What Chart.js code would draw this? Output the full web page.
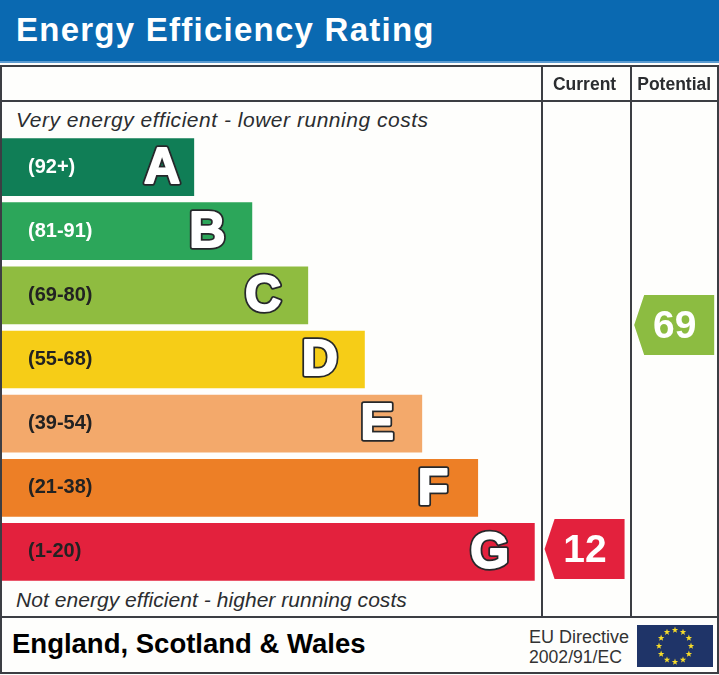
<!DOCTYPE html>
<html>
<head>
<meta charset="utf-8">
<script src="https://cdn.jsdelivr.net/npm/chart.js@4"></script>
<style>
html,body{margin:0;padding:0;background:#fff}
#page{position:relative;width:719px;height:675px;overflow:hidden;background:#fefefc;font-family:"Liberation Sans",Arial,sans-serif}
#page div{position:absolute;white-space:nowrap}
canvas{position:absolute;left:0;top:0}
.line{background:#3c3e43}
#head{left:0;top:0;width:719px;height:61px;background:#0a69b1;border-bottom:2px solid #5b9bd0}
#title{left:16px;top:8px;color:#fff;font-weight:bold;font-size:33px;line-height:44px;letter-spacing:1.25px}
.note{left:16px;font-style:italic;font-size:21px;line-height:26px;color:#2b2d30}
#region{left:12px;top:628px;font-weight:bold;font-size:27.5px;line-height:32px;color:#000}
.eu{left:529px;font-size:18px;line-height:20px;color:#333}
#flag{position:absolute;left:637px;top:625px}
</style>
</head>
<body>
<div id="page">
  <div id="head"></div>
  <div id="title">Energy Efficiency Rating</div>
  <div class="line" style="left:0;top:65px;width:719px;height:2px"></div>
  <div class="line" style="left:0;top:100px;width:719px;height:2px"></div>
  <div class="line" style="left:0;top:616px;width:719px;height:2px"></div>
  <div class="line" style="left:0;top:672px;width:719px;height:2px"></div>
  <div class="line" style="left:0;top:65px;width:2px;height:609px"></div>
  <div class="line" style="left:717px;top:65px;width:2px;height:609px"></div>
  <div class="line" style="left:541px;top:65px;width:2px;height:552px"></div>
  <div class="line" style="left:630px;top:65px;width:2px;height:552px"></div>
  <div class="note" style="top:107px;letter-spacing:.52px">Very energy efficient - lower running costs</div>
  <div class="note" style="top:587px;letter-spacing:.05px">Not energy efficient - higher running costs</div>
  <div id="region">England, Scotland &amp; Wales</div>
  <div class="eu" style="top:627px">EU Directive</div>
  <div class="eu" style="top:647px;font-size:17.6px">2002/91/EC</div>
  <svg id="flag" width="76" height="42" viewBox="0 0 76 42"></svg>
  <canvas id="chart" width="719" height="675"></canvas>
</div>
<script>
const grades = ["A", "B", "C", "D", "E", "F", "G"];
const ranges = ["(92+)", "(81-91)", "(69-80)", "(55-68)", "(39-54)", "(21-38)", "(1-20)"];
const bandLengths = [26.8, 34.9, 42.7, 50.6, 58.6, 66.4, 74.3];
const bandColours = ["#107e56", "#2ca65a", "#8fbc40", "#f6cd17", "#f3a96b", "#ed7f26", "#e3213d"];
const rangeColours = ["#fff", "#fff", "#222", "#222", "#222", "#222", "#222"];
const columns = ["", "", "", "", "", "", "Current", "Potential"];
const ratingColumns = ["Current", "Potential"];
const ratings = [12, 69];
const ratingColours = ["#e3213d", "#8cbc41"];

// stars on the flag
const flag = document.getElementById("flag");
let flagHTML = '<rect width="76" height="42" fill="#1f3468"/>';
for (let i = 0; i < 12; i++) {
    let a = i * Math.PI / 6;
    let cx = 38 + 16 * Math.sin(a), cy = 21 - 16 * Math.cos(a);
    let pts = [];
    for (let k = 0; k < 10; k++) {
        let r = k % 2 ? 1.4 : 3.4, b = k * Math.PI / 5;
        pts.push((cx + r * Math.sin(b)).toFixed(1) + "," + (cy - r * Math.cos(b)).toFixed(1));
    }
    flagHTML += '<polygon fill="#f7dc2a" points="' + pts.join(" ") + '"/>';
}
flag.innerHTML = flagHTML;

// big outlined letters at the end of each bar, rating arrows on the scatter points
const marks = {
    id: "marks",
    afterDatasetsDraw(chart) {
        const ctx = chart.ctx;
        ctx.save();
        ctx.textAlign = "center";
        ctx.textBaseline = "middle";
        ctx.lineJoin = "round";

        ctx.font = "bold 50px 'Liberation Sans'";
        chart.getDatasetMeta(0).data.forEach((bar, i) => {
            let x = bar.x - (i === 0 ? 32 : 45);
            ctx.lineWidth = 5.5;
            ctx.strokeStyle = "#26282b";
            ctx.strokeText(grades[i], x, bar.y + 2);
            ctx.lineWidth = 2;
            ctx.strokeStyle = "#fff";
            ctx.strokeText(grades[i], x, bar.y + 2);
            ctx.fillStyle = "#fff";
            ctx.fillText(grades[i], x, bar.y + 2);
        });

        ctx.font = "bold 39px 'Liberation Sans'";
        chart.getDatasetMeta(1).data.forEach((p, i) => {
            ctx.fillStyle = ratingColours[i];
            ctx.beginPath();
            ctx.moveTo(p.x - 40, p.y);
            ctx.lineTo(p.x - 30, p.y - 30);
            ctx.lineTo(p.x + 40, p.y - 30);
            ctx.lineTo(p.x + 40, p.y + 30);
            ctx.lineTo(p.x - 30, p.y + 30);
            ctx.closePath();
            ctx.fill();
            ctx.fillStyle = "#fff";
            ctx.fillText(String(ratings[i]), p.x + 0.5, p.y + 2);
        });
        ctx.restore();
    }
};

new Chart(document.getElementById("chart"), {
    data: {
        labels: ranges,
        datasets: [
            {
                type: "bar",
                indexAxis: "y",
                grouped: false,
                data: bandLengths,
                backgroundColor: bandColours,
                barPercentage: 0.9,
                categoryPercentage: 1,
                xAxisID: "band",
                yAxisID: "grade"
            },
            {
                type: "scatter",
                data: ratings.map((r, i) => ({x: ratingColumns[i], y: r})),
                pointRadius: 0,
                xAxisID: "slot",
                yAxisID: "rating"
            }
        ]
    },
    options: {
        responsive: false,
        animation: false,
        events: [],
        layout: {padding: {left: 2, right: 0, top: 0, bottom: 91}},
        plugins: {legend: {display: false}, tooltip: {enabled: false}},
        scales: {
            band: {axis: "x", type: "linear", min: 0, max: 100, display: false},
            rating: {axis: "y", type: "linear", min: 3.1, max: 117.3, display: false},
            slot: {
                axis: "x",
                type: "category",
                labels: columns,
                position: "top",
                offset: true,
                afterFit: s => { s.height = 135; s.paddingLeft = 0; s.paddingRight = 0; },
                grid: {display: false, drawTicks: false},
                border: {display: false},
                ticks: {
                    autoSkip: false,
                    maxRotation: 0,
                    padding: 39,
                    color: "#2b2d30",
                    font: {family: "Liberation Sans", weight: "bold", size: 17.5}
                }
            },
            grade: {
                axis: "y",
                type: "category",
                position: "left",
                offset: true,
                afterFit: s => { s.width = 0; },
                grid: {display: false, drawTicks: false},
                border: {display: false},
                ticks: {
                    mirror: true,
                    z: 1,
                    padding: 26,
                    autoSkip: false,
                    color: c => rangeColours[c.index],
                    font: {family: "Liberation Sans", weight: "bold", size: 20}
                }
            }
        }
    },
    plugins: [marks]
});
</script>
</body>
</html>
